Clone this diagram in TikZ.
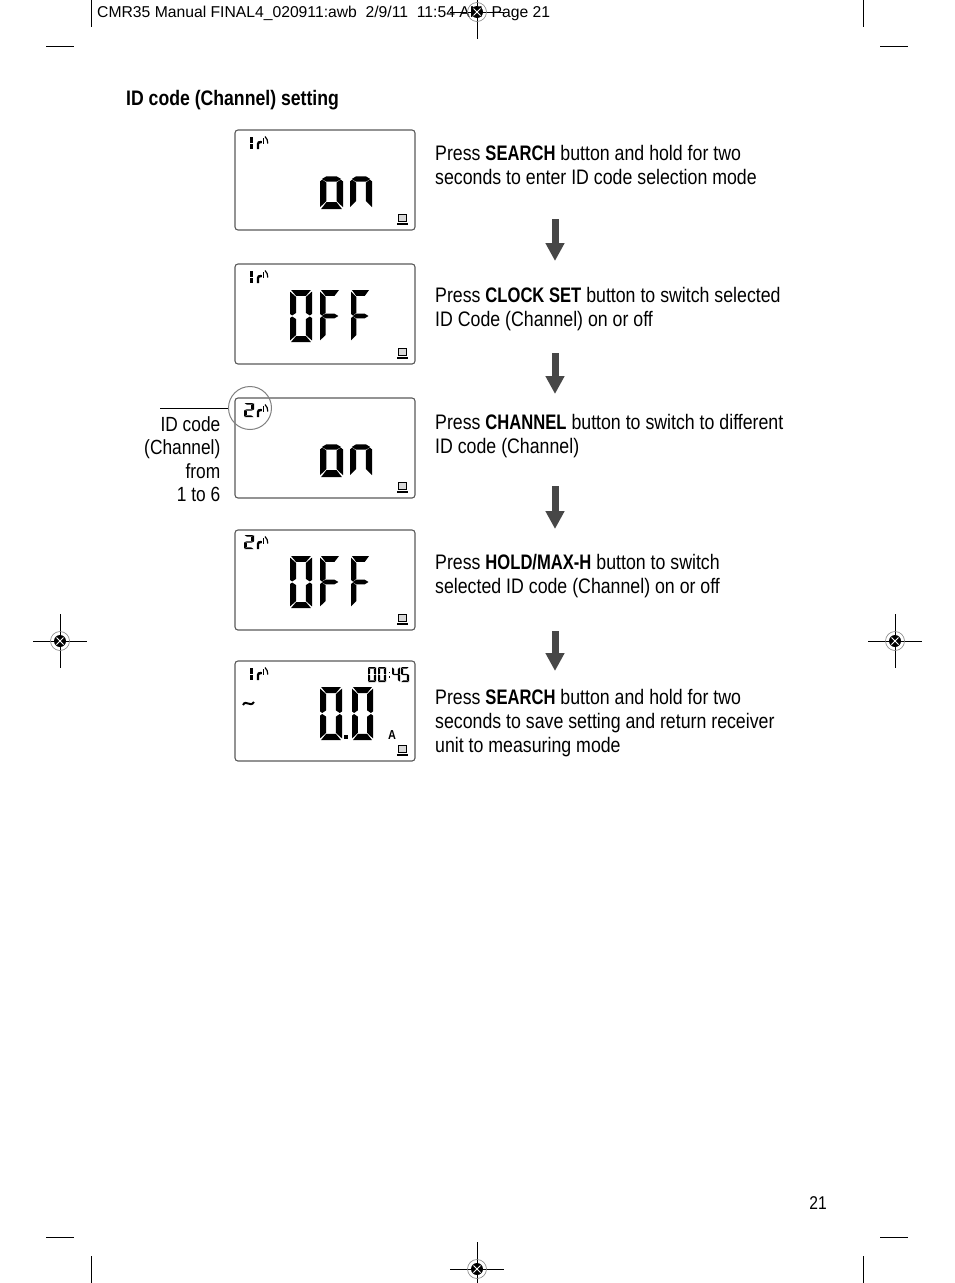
\documentclass[tikz,border=0pt]{standalone}
\usepackage{fontspec}
\setmainfont[FakeStretch=0.845,BoldFeatures={FakeStretch=0.79}]{Liberation Sans}
\newfontfamily\headfont{Liberation Sans}
\newfontfamily\titlefont[FakeStretch=0.84]{Liberation Sans Bold}
\usetikzlibrary{arrows.meta}

% seven segment pieces, unit box
\newcommand{\sega}{(.05,0)--(.95,0)--(.72,.115)--(.28,.115)--cycle}
\newcommand{\segb}{(1,.03)--(.72,.135)--(.72,.44)--(.9,.49)--(1,.46)--cycle}
\newcommand{\segc}{(1,.54)--(.9,.51)--(.72,.56)--(.72,.865)--(1,.97)--cycle}
\newcommand{\segd}{(.05,1)--(.95,1)--(.72,.885)--(.28,.885)--cycle}
\newcommand{\sege}{(0,.54)--(.1,.51)--(.28,.56)--(.28,.865)--(0,.97)--cycle}
\newcommand{\segf}{(0,.03)--(.28,.135)--(.28,.44)--(.1,.49)--(0,.46)--cycle}
\newcommand{\segg}{(.08,.5)--(.28,.455)--(.72,.455)--(.92,.5)--(.72,.545)--(.28,.545)--cycle}
\newcommand{\segchar}[5]{%
  \begin{scope}[shift={(#1,#2)},x=#3pt,y=-#4pt]
    \foreach \s in {#5}{\fill \csname seg\s\endcsname;}
  \end{scope}}

\newcommand{\signalmark}{%
  \draw[line width=1.2pt] (26.5,13)--(26.5,10.5);
  \draw[line width=1.2pt] (28.7,13.5)--(28.7,7.5);
  \draw[line width=1.2pt] (30,6.5) .. controls (32,8) and (32.8,11) .. (32.8,13.5);}
\newcommand{\chanone}{%
  \draw[line width=2.8pt] (16.5,7)--(16.5,12.5);
  \draw[line width=2.8pt] (16.5,14)--(16.5,19);
  \draw[line width=2.4pt] (23,19)--(23,14) .. controls (23,12.5) and (24,12) .. (26.5,12);
  \signalmark}
\newcommand{\chantwo}{%
  \segchar{9}{5}{10}{14}{a,b,g,e,d}
  \draw[line width=2.4pt] (23,19)--(23,14) .. controls (23,12.5) and (24,12) .. (26.5,12);
  \signalmark}
\newcommand{\pcicon}{%
  \draw[line width=1.1pt,fill=gray!30] (163.6,84.6) rectangle (171.4,91.4);
  \fill (162,92.6) rectangle (173,95.4);}
\newcommand{\wordon}{%
  \segchar{85}{19}{23}{60}{g,c,d,e}
  \segchar{115}{19}{22}{60}{g,c,e}}
\newcommand{\wordoff}{%
  \segchar{55}{26}{22}{52}{a,b,c,d,e,f}
  \segchar{85}{26}{20}{52}{a,e,f,g}
  \segchar{116}{26}{19}{52}{a,e,f,g}}

\newcommand{\regmark}[3]{%
  \draw[black,line width=.8pt] (#1-27,#2)--(#1+27,#2);
  \draw[black,line width=.8pt] (#1,#2-#3)--(#1,#2+27);
  \draw[gray,line width=.6pt] (#1,#2) circle (9.5);
  \fill[black] (#1,#2) circle (6);
  \draw[white,line width=.8pt] (#1-3.5,#2-3.5)--(#1+3.5,#2+3.5);
  \draw[white,line width=.8pt] (#1-3.5,#2+3.5)--(#1+3.5,#2-3.5);}

\tikzset{
  lcdbox/.style={draw=black!65, line width=1.1pt, rounded corners=3pt, minimum width=180pt, minimum height=100pt, inner sep=0pt},
  steptext/.style={anchor=north west, inner sep=0pt, align=left, font=\fontsize{21}{23.7}\selectfont, execute at begin node=\strut},
  steparrow/.style={draw=black!72, line width=7pt, -{Triangle[width=18pt,length=18pt,fill=black!72]}},
  trimline/.style={black, line width=.8pt},
}

\begin{document}
\begin{tikzpicture}[x=1pt,y=-1pt]
  \useasboundingbox (0,0) rectangle (954,1283);

  % page furniture
  \node[anchor=base west, inner sep=0pt, font=\headfont\fontsize{15.7}{18}\selectfont] (headline) at (97,17) {CMR35 Manual FINAL4\_020911:awb\ \ 2/9/11\ \ 11:54 AM\ \ Page 21};
  \node[anchor=base west, inner sep=0pt, font=\titlefont\fontsize{21}{24}\selectfont] (title) at (126,105) {ID code (Channel) setting};
  \node[anchor=base east, inner sep=0pt, font=\fontsize{18.5}{22}\selectfont] (pagenum) at (827,1209) {21};

  \draw[trimline] (91,0)--(91,27);
  \draw[trimline] (863,0)--(863,27);
  \draw[trimline] (46,46)--(74,46);
  \draw[trimline] (880,46)--(908,46);
  \draw[trimline] (46,1237)--(74,1237);
  \draw[trimline] (880,1237)--(908,1237);
  \draw[trimline] (91,1256)--(91,1283);
  \draw[trimline] (863,1256)--(863,1283);

  \regmark{477}{12}{12}
  \regmark{60}{641}{27}
  \regmark{895}{641}{27}
  \regmark{477}{1269}{27}

  % displays
  \node[lcdbox] (lcdA) at (325,180) {};
  \node[lcdbox] (lcdB) at (325,314) {};
  \node[lcdbox] (lcdC) at (325,448) {};
  \node[lcdbox] (lcdD) at (325,580) {};
  \node[lcdbox] (lcdE) at (325,711) {};

  \begin{scope}[shift={(235,130)}]
    \chanone \wordon \pcicon
  \end{scope}
  \begin{scope}[shift={(235,264)}]
    \chanone \wordoff \pcicon
  \end{scope}
  \begin{scope}[shift={(235,398)}]
    \chantwo \wordon \pcicon
  \end{scope}
  \begin{scope}[shift={(235,530)}]
    \chantwo \wordoff \pcicon
  \end{scope}
  \begin{scope}[shift={(235,661)}]
    \chanone \pcicon
    \segchar{133}{6}{8}{15}{a,b,c,d,e,f}
    \segchar{143}{6}{8}{15}{a,b,c,d,e,f}
    \fill (153.5,10.5) rectangle (155,12);
    \fill (153.5,15) rectangle (155,16.5);
    \segchar{157}{6}{8}{15}{b,c,f,g}
    \segchar{166}{6}{8}{15}{a,c,d,f,g}
    \draw[line width=2pt] (8,44) .. controls (11,38) and (15,47) .. (19,41);
    \segchar{85}{26}{22}{53}{a,b,c,d,e,f}
    \fill (108.5,73.5) rectangle (113,78);
    \segchar{117}{26}{21}{53}{a,b,c,d,e,f}
    \node[inner sep=0pt, font=\titlefont\fontsize{13}{14}\selectfont] (unitA) at (157,74) {A};
  \end{scope}

  % channel callout
  \node[circle, draw=black!50, line width=1pt, minimum size=43pt, inner sep=0pt] (chanring) at (250,408) {};
  \coordinate (leadstart) at (160,408);
  \draw[black, line width=.8pt] (leadstart)--(chanring.west);
  \node[anchor=north east, inner sep=0pt, align=right, font=\fontsize{20.5}{23.5}\selectfont, execute at begin node=\strut] (chanlabel) at (220.5,416) {ID code\\(Channel)\\from\\1 to 6};

  % step texts
  \node[steptext] (stepA) at (435,145.4) {Press \textbf{SEARCH} button and hold for two\\seconds to enter ID code selection mode};
  \node[steptext] (stepB) at (435,287.4) {Press \textbf{CLOCK SET} button to switch selected\\ID Code (Channel) on or off};
  \node[steptext] (stepC) at (435,414.4) {Press \textbf{CHANNEL} button to switch to different\\ID code (Channel)};
  \node[steptext] (stepD) at (435,554.4) {Press \textbf{HOLD/MAX-H} button to switch\\selected ID code (Channel) on or off};
  \node[steptext] (stepE) at (435,689.4) {Press \textbf{SEARCH} button and hold for two\\seconds to save setting and return receiver\\unit to measuring mode};

  % arrows between steps
  \coordinate (arrowAtop) at (555,219);
  \coordinate (arrowAend) at (555,261);
  \coordinate (arrowBtop) at (555,353);
  \coordinate (arrowBend) at (555,394);
  \coordinate (arrowCtop) at (555,486);
  \coordinate (arrowCend) at (555,529);
  \coordinate (arrowDtop) at (555,631);
  \coordinate (arrowDend) at (555,671);
  \draw[steparrow] (arrowAtop)--(arrowAend);
  \draw[steparrow] (arrowBtop)--(arrowBend);
  \draw[steparrow] (arrowCtop)--(arrowCend);
  \draw[steparrow] (arrowDtop)--(arrowDend);
\end{tikzpicture}
\end{document}
